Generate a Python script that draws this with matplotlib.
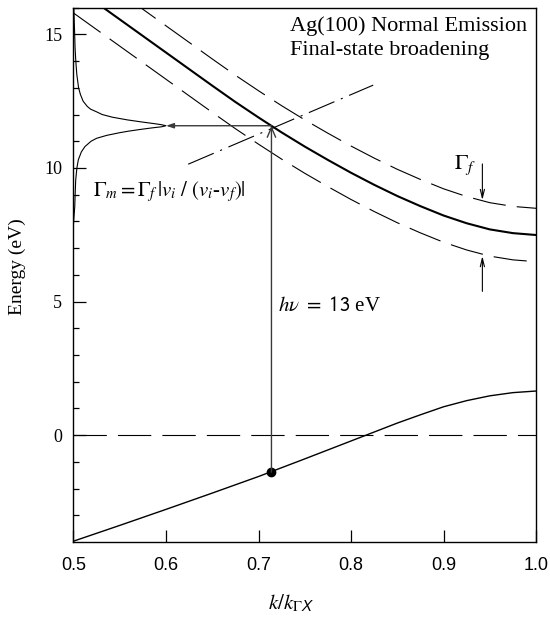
import matplotlib
matplotlib.use("Agg")
import matplotlib.pyplot as plt
import numpy as np

plt.rcParams['font.family'] = ['Liberation Serif', 'DejaVu Serif']
plt.rcParams['mathtext.fontset'] = 'stix'
plt.rcParams['lines.scale_dashes'] = False

# final-state band
final_k = [0.5, 0.525, 0.55, 0.575, 0.6, 0.625, 0.65, 0.675, 0.7, 0.725, 0.75, 0.775,
           0.8, 0.825, 0.85, 0.875, 0.9, 0.925, 0.95, 0.975, 1.0]
final_E = [16.80, 16.18, 15.56, 14.94, 14.32, 13.70, 13.08, 12.47, 11.89, 11.33, 10.80, 10.30,
           9.82, 9.37, 8.95, 8.57, 8.22, 7.93, 7.70, 7.56, 7.49]
gamma_f = 1.0  # half-width of the broadened band

# initial (valence) band
init_k = [0.5, 0.55, 0.6, 0.65, 0.7, 0.75, 0.8, 0.85, 0.875, 0.9, 0.925, 0.95, 0.975, 1.0]
init_E = [-3.97, -3.38, -2.78, -2.17, -1.55, -0.89, -0.22, 0.45, 0.76, 1.06, 1.29, 1.47, 1.59, 1.65]

# transition point
k0 = 0.714
E_i = -1.39
E_f = 11.58

# dash-dot tangent line
tang_k = [0.624, 0.824]
tang_E = [10.14, 13.1]

# measured peak on the left (energy, relative height)
peak_E = [16.0, 15.5, 15.0, 14.5, 14.0, 13.5, 13.0, 12.75, 12.5, 12.3, 12.2, 12.1, 12.0,
          11.9, 11.8, 11.72, 11.66, 11.62, 11.58, 11.54, 11.50, 11.44, 11.38, 11.32,
          11.22, 11.11, 11.0, 10.8, 10.6, 10.3, 10.0, 9.55, 9.0, 8.56, 8.2, 7.9]
peak_a = [0.004, 0.008, 0.013, 0.017, 0.025, 0.036, 0.055, 0.075, 0.104, 0.15, 0.185, 0.25, 0.31,
          0.42, 0.58, 0.74, 0.87, 0.95, 1.0, 0.95, 0.85, 0.72, 0.60, 0.50,
          0.36, 0.25, 0.19, 0.124, 0.085, 0.052, 0.037, 0.024, 0.018, 0.014, 0.006, 0.0]
peak_width = 0.1

fig = plt.figure(figsize=(5.5, 6.17), dpi=100)
ax = fig.add_axes([0.1336, 0.1216, 0.841, 0.866])

final_E = np.array(final_E)
dash = (0, (24, 8))
ax.plot(final_k, final_E, color='black', lw=1.5)
ax.plot(final_k, final_E + gamma_f, color='black', lw=0.8, linestyle=dash)
ax.plot(final_k, final_E - gamma_f, color='black', lw=0.8, linestyle=dash)
ax.plot(init_k, init_E, color='black', lw=1.0)
ax.axhline(0, color='black', lw=0.8, linestyle=dash)
ax.plot(tang_k, tang_E, color='black', lw=0.8, linestyle=(0, (20, 5, 1.5, 5)))

ax.plot(0.5 + peak_width * np.array(peak_a), peak_E, color='black', lw=0.8)

grey = '#3a3a3a'
ax.annotate('', xy=(k0, E_f), xytext=(k0, E_i),
            arrowprops=dict(arrowstyle='->,head_length=0.7,head_width=0.3', color=grey, lw=1.0,
                            shrinkA=0, shrinkB=0))
ax.annotate('', xy=(0.5 + peak_width, E_f), xytext=(k0, E_f),
            arrowprops=dict(arrowstyle='-|>,head_length=0.45,head_width=0.15', color=grey, lw=1.0,
                            shrinkA=0, shrinkB=0))
ax.plot([k0], [E_i], 'o', color='black', ms=6)

# Gamma_f arrows
ax.annotate('', xy=(0.942, 8.8), xytext=(0.942, 10.15),
            arrowprops=dict(arrowstyle='->,head_length=0.6,head_width=0.15', color='black', lw=0.8,
                            shrinkA=0, shrinkB=0))
ax.annotate('', xy=(0.942, 6.7), xytext=(0.942, 5.38),
            arrowprops=dict(arrowstyle='->,head_length=0.6,head_width=0.15', color='black', lw=0.8,
                            shrinkA=0, shrinkB=0))
ax.text(0.935, 10.1, r'$\Gamma_f$', fontsize=16, ha='right', va='center')

ax.text(0.734, 15.3, 'Ag(100) Normal Emission', fontsize=16, va='center')
ax.text(0.734, 14.4, 'Final-state broadening', fontsize=16, va='center')
ax.text(0.5215, 9.1, r'$\Gamma_m = \Gamma_f\,|v_i\ /\ (v_i$-$v_f)|$', fontsize=15, va='center')
ax.text(0.721, 4.8, r'$h\nu$ $\mathsf{=\ 13}$ eV', fontsize=15, va='center')

ax.set_xlim(0.5, 1.0)
ax.set_ylim(-4, 16)
ax.set_xticks([0.5, 0.6, 0.7, 0.8, 0.9, 1.0])
ax.set_xticklabels(['0.5', '0.6', '0.7', '0.8', '0.9', '1.0'], family='Liberation Sans')
ax.set_yticks([0, 5, 10, 15])
ax.set_yticks([v for v in range(-3, 17) if v % 5 != 0], minor=True)
ax.tick_params(axis='both', which='major', direction='in', length=9, width=0.9, labelsize=13)
ax.tick_params(axis='y', which='major', pad=8)
ax.tick_params(axis='x', which='major', pad=11)
ax.tick_params(axis='y', which='minor', direction='in', length=4.5, width=0.9)
ax.tick_params(top=False, right=False)
for s in ax.spines.values():
    s.set_linewidth(1.0)

ax.set_xlabel(r'$k/k_{\Gamma\mathsf{X}}$', fontsize=15)
ax.set_ylabel('Energy (eV)', fontsize=14)
ax.xaxis.set_label_coords(0.47, -0.095)
ax.yaxis.set_label_coords(-0.103, 0.515)

fig.savefig('out.png', dpi=100)
